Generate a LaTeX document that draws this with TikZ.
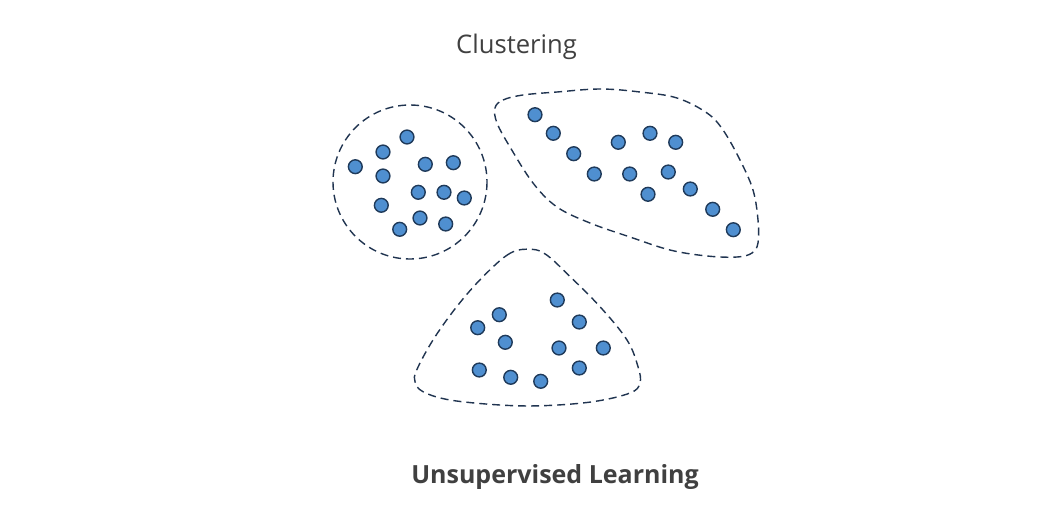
\documentclass[tikz,border=0pt]{standalone}
\usepackage{fontspec}
\setmainfont{Open Sans}
\definecolor{dotfill}{HTML}{4F8FD0}
\definecolor{dotline}{HTML}{1F3A5A}
\definecolor{blobline}{HTML}{203450}
\definecolor{txt}{HTML}{404040}
\tikzset{
  dot/.style={circle, draw=dotline, fill=dotfill, line width=1.4pt, minimum size=13.8pt, inner sep=0pt},
  blob/.style={draw=blobline, line width=1.4pt, dash pattern=on 8pt off 5pt},
  lbl/.style={text=txt, anchor=base, inner sep=0pt}
}
\begin{document}
\begin{tikzpicture}[x=1pt,y=-1pt]
\useasboundingbox[fill=white] (0,0) rectangle (1050,527);
% cluster outlines
\draw[blob] (410,182) circle[radius=77];
\draw[blob] plot[smooth cycle, tension=0.6] coordinates {
 (495,108) (503,100) (523,95) (557,92) (600,89) (640,92) (677,98) (707,113)
 (723,130) (740,160) (753,190) (758,220) (758,243) (752,253) (737,257)
 (707,256) (670,250) (630,237) (590,223) (557,207) (533,183) (510,147) (497,123)};
\draw[blob] plot[smooth cycle, tension=0.6] coordinates {
 (531.7,249.3) (510,253.3) (483,276.7) (456.7,306.7) (433,340) (416.7,370)
 (415,381.7) (423,391.7) (450,400) (500,405) (543,405.7) (593,401.7) (630,393)
 (640,383) (638,366.7) (627,340) (600,306.7) (566.7,273.3) (546.7,255)};
% cluster 1
\node[dot] (a1) at (407,137) {};
\node[dot] (a2) at (383,152) {};
\node[dot] (a3) at (355.3,166.7) {};
\node[dot] (a4) at (383,176) {};
\node[dot] (a5) at (425.3,164.3) {};
\node[dot] (a6) at (453.3,162.7) {};
\node[dot] (a7) at (418.3,192.3) {};
\node[dot] (a8) at (444,192.3) {};
\node[dot] (a9) at (464.3,198) {};
\node[dot] (a10) at (381.3,205.3) {};
\node[dot] (a11) at (420,218) {};
\node[dot] (a12) at (399.7,229.3) {};
\node[dot] (a13) at (445.7,224) {};
% cluster 2
\node[dot] (b1) at (535,114.7) {};
\node[dot] (b2) at (553.3,133.3) {};
\node[dot] (b3) at (573.7,153.7) {};
\node[dot] (b4) at (594.3,174) {};
\node[dot] (b5) at (618.3,142.3) {};
\node[dot] (b6) at (650,133.3) {};
\node[dot] (b7) at (675.7,142.3) {};
\node[dot] (b8) at (629.7,174) {};
\node[dot] (b9) at (668.3,172) {};
\node[dot] (b10) at (648,194.3) {};
\node[dot] (b11) at (690.3,189) {};
\node[dot] (b12) at (712.7,209.3) {};
\node[dot] (b13) at (733.3,229.7) {};
% cluster 3
\node[dot] (c1) at (557.3,300) {};
\node[dot] (c2) at (499.3,314.7) {};
\node[dot] (c3) at (477.7,327.7) {};
\node[dot] (c4) at (579.3,322) {};
\node[dot] (c5) at (505.3,342.3) {};
\node[dot] (c6) at (559,348) {};
\node[dot] (c7) at (603.3,348) {};
\node[dot] (c8) at (479.3,370) {};
\node[dot] (c9) at (579.3,368) {};
\node[dot] (c10) at (510.7,377.3) {};
\node[dot] (c11) at (540.7,381.3) {};
% labels
\node[lbl, font=\fontsize{25.6}{30}\selectfont] (title) at (516.5,53.3) {Clustering};
\node[lbl, font=\fontsize{25}{30}\selectfont\bfseries] (sub) at (555,483.3) {Unsupervised Learning};
\end{tikzpicture}
\end{document}
